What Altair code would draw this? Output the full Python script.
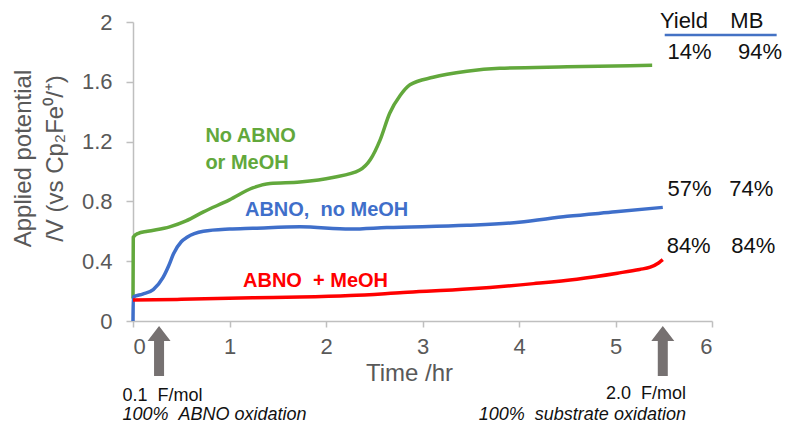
import altair as alt
import pandas as pd

# ---- series data (time in hr, potential in V) ----
green_t = [0, 0.003, 0.05, 0.15, 0.38, 0.55, 0.73, 1.0, 1.24, 1.42, 1.73, 2.07, 2.35, 2.46, 2.56, 2.66, 2.77, 2.87, 3.11, 3.46, 3.8, 4.5, 5.38]
green_v = [0.15, 0.56, 0.585, 0.60, 0.63, 0.67, 0.73, 0.81, 0.89, 0.92, 0.93, 0.96, 1.01, 1.08, 1.21, 1.39, 1.51, 1.58, 1.63, 1.67, 1.69, 1.70, 1.71]

blue_t = [0, 0.003, 0.1, 0.21, 0.31, 0.37, 0.42, 0.5, 0.56, 0.73, 1.0, 1.24, 1.73, 2.25, 2.63, 3.46, 4.0, 4.5, 5.0, 5.49]
blue_v = [0.0, 0.16, 0.18, 0.21, 0.29, 0.37, 0.45, 0.53, 0.56, 0.60, 0.615, 0.62, 0.63, 0.615, 0.625, 0.64, 0.66, 0.70, 0.73, 0.76]

red_t = [0, 0.5, 1.24, 1.73, 2.25, 2.8, 3.5, 4.15, 4.6, 5.02, 5.25, 5.36, 5.45, 5.49]
red_v = [0.14, 0.145, 0.155, 0.16, 0.17, 0.19, 0.215, 0.25, 0.28, 0.32, 0.345, 0.36, 0.39, 0.41]

series_names = ["No ABNO or MeOH", "ABNO, no MeOH", "ABNO + MeOH"]
series_colors = ["#62A83C", "#3F6FCA", "#FF0000"]

NB = "\u00a0"

# ---- in-plot series labels ----
label_text = ["No ABNO", "or MeOH", "ABNO," + NB + NB + "no MeOH", "ABNO" + NB + NB + "+ MeOH"]
label_t = [0.75, 0.75, 1.16, 1.14]
label_v = [1.24, 1.055, 0.742, 0.268]
label_color = [series_colors[0], series_colors[0], series_colors[1], series_colors[2]]

# ---- yield / mass balance table ----
table_text = ["Yield", "MB", "14%", "94%", "57%", "74%", "84%", "84%"]
table_t = [5.46, 6.19, 5.54, 6.27, 5.54, 6.18, 5.53, 6.20]
table_v = [2.005, 2.005, 1.80, 1.80, 0.883, 0.883, 0.502, 0.502]
underline_t = [5.51]
underline_t2 = [6.67]
underline_v = [1.913]

# ---- arrows and notes below the axis ----
arrow_t = [0.27, 5.49]
note_text_1 = ["0.1" + NB + NB + "F/mol", "2.0" + NB + NB + "F/mol"]
note_text_2 = ["100%" + NB + NB + "ABNO oxidation", "100%" + NB + NB + "substrate oxidation"]
note_t = [-0.11, 5.73]

FONT = "Liberation Sans"
GRAY = "#595959"

rows = []
for name, ts, vs in zip(series_names, [green_t, blue_t, red_t], [green_v, blue_v, red_v]):
    for t, v in zip(ts, vs):
        rows.append({"series": name, "t": t, "v": v})
df = pd.DataFrame(rows)

x_enc = alt.X(
    "t:Q",
    scale=alt.Scale(domain=[0, 6], nice=False),
    axis=alt.Axis(
        values=[0, 1, 2, 3, 4, 5, 6], format="d", title="Time /hr", grid=False,
        labelFont=FONT, labelFontSize=22, labelColor=GRAY, labelPadding=9,
        titleFont=FONT, titleFontSize=24, titleColor=GRAY, titleFontWeight="normal",
        titlePadding=4, titleX=276,
        domainColor="#BFBFBF", domainWidth=1.5, tickColor="#BFBFBF", tickSize=6, tickWidth=1.5,
    ),
)
y_enc = alt.Y(
    "v:Q",
    scale=alt.Scale(domain=[0, 2], nice=False),
    axis=alt.Axis(
        values=[0, 0.4, 0.8, 1.2, 1.6, 2], format="~g", grid=False,
        title=["Applied potential", "/V (vs Cp\u2082Fe\u2070/\u207a)"],
        labelFont=FONT, labelFontSize=22, labelColor=GRAY, labelPadding=14,
        titleFont=FONT, titleFontSize=24, titleColor=GRAY, titleFontWeight="normal",
        titleLineHeight=32, titleX=-122, titleY=136, titleAlign="center", titleBaseline="top",
        titleAngle=270,
        domainColor="#BFBFBF", domainWidth=1.5, tickColor="#BFBFBF", tickSize=7, tickWidth=1.5,
    ),
)

lines = alt.Chart(df).mark_line(strokeWidth=3.5, interpolate="monotone").encode(
    x=x_enc,
    y=y_enc,
    color=alt.Color("series:N", scale=alt.Scale(domain=series_names, range=series_colors), legend=None),
    order=alt.Order("t:Q"),
)

lab_df = pd.DataFrame({"text": label_text, "t": label_t, "v": label_v, "c": label_color})
labels = alt.Chart(lab_df).mark_text(
    align="left", baseline="middle", font=FONT, fontSize=20, fontWeight="bold"
).encode(x="t:Q", y="v:Q", text="text:N", color=alt.Color("c:N", scale=None))

tab_df = pd.DataFrame({"text": table_text, "t": table_t, "v": table_v})
table = alt.Chart(tab_df).mark_text(
    align="left", baseline="middle", font=FONT, fontSize=22, color="#111111"
).encode(x="t:Q", y="v:Q", text="text:N")

ul_df = pd.DataFrame({"t": underline_t, "t2": underline_t2, "v": underline_v})
underline = alt.Chart(ul_df).mark_rule(color="#4472C4", strokeWidth=2.5).encode(
    x="t:Q", x2="t2:Q", y="v:Q"
)

arrow_path = "M0,-2.17L1,-0.87L0.435,-0.87L0.435,2.17L-0.435,2.17L-0.435,-0.87L-1,-0.87Z"
arr_df = pd.DataFrame({"t": arrow_t})
arrows = alt.Chart(arr_df).mark_point(
    shape=arrow_path, size=529, filled=True, color="#767171", opacity=1, strokeWidth=0
).encode(x="t:Q", y=alt.value(329))

note_df = pd.DataFrame({"a": note_text_1, "b": note_text_2, "t": note_t})
notes1_l = alt.Chart(note_df.iloc[[0]]).mark_text(
    align="left", baseline="middle", font=FONT, fontSize=18, color="#111111"
).encode(x="t:Q", y=alt.value(374), text="a:N")
notes2_l = alt.Chart(note_df.iloc[[0]]).mark_text(
    align="left", baseline="middle", font=FONT, fontSize=18, fontStyle="italic", color="#111111"
).encode(x="t:Q", y=alt.value(393), text="b:N")
notes1_r = alt.Chart(note_df.iloc[[1]]).mark_text(
    align="right", baseline="middle", font=FONT, fontSize=18, color="#111111"
).encode(x="t:Q", y=alt.value(372), text="a:N")
notes2_r = alt.Chart(note_df.iloc[[1]]).mark_text(
    align="right", baseline="middle", font=FONT, fontSize=18, fontStyle="italic", color="#111111"
).encode(x="t:Q", y=alt.value(393), text="b:N")

chart = alt.layer(
    lines, labels, table, underline, arrows, notes1_l, notes2_l, notes1_r, notes2_r
).properties(
    width=579, height=299,
    autosize=alt.AutoSizeParams(type="none"),
    padding={"left": 125, "top": 14, "right": 80, "bottom": 106},
    background="white",
).configure_view(strokeWidth=0)

chart.save("out.html", embed_options={"renderer": "svg", "actions": False})
